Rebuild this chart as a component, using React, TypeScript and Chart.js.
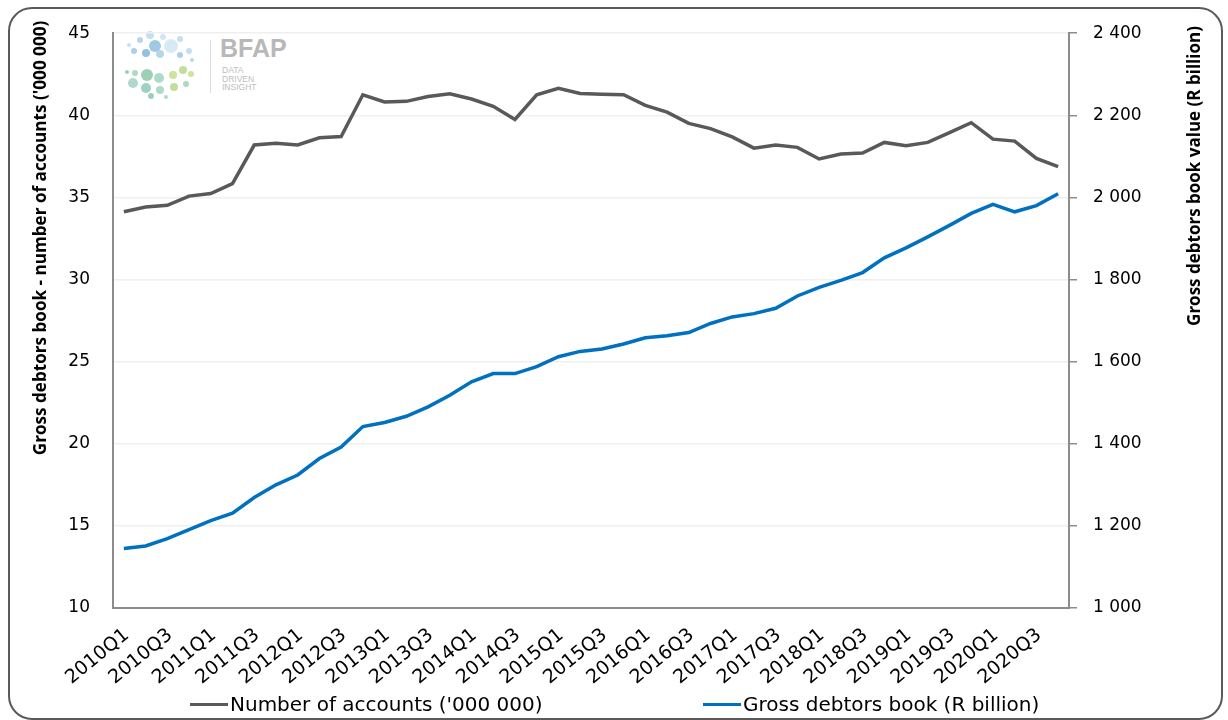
import React, { useEffect, useRef } from "react";
import { Chart, registerables } from "chart.js";

Chart.register(...registerables);

const quarters = [
  "2010Q1", "2010Q2", "2010Q3", "2010Q4",
  "2011Q1", "2011Q2", "2011Q3", "2011Q4",
  "2012Q1", "2012Q2", "2012Q3", "2012Q4",
  "2013Q1", "2013Q2", "2013Q3", "2013Q4",
  "2014Q1", "2014Q2", "2014Q3", "2014Q4",
  "2015Q1", "2015Q2", "2015Q3", "2015Q4",
  "2016Q1", "2016Q2", "2016Q3", "2016Q4",
  "2017Q1", "2017Q2", "2017Q3", "2017Q4",
  "2018Q1", "2018Q2", "2018Q3", "2018Q4",
  "2019Q1", "2019Q2", "2019Q3", "2019Q4",
  "2020Q1", "2020Q2", "2020Q3", "2020Q4",
];

// Number of accounts ('000 000) - left axis
const accounts = [
  34.13, 34.42, 34.52, 35.08, 35.24, 35.84, 38.19, 38.3, 38.2, 38.63, 38.71,
  41.25, 40.81, 40.85, 41.15, 41.31, 40.99, 40.55, 39.75, 41.25, 41.65, 41.33,
  41.29, 41.25, 40.61, 40.19, 39.51, 39.19, 38.69, 38.0, 38.19, 38.05, 37.34,
  37.64, 37.7, 38.35, 38.15, 38.35, 38.95, 39.55, 38.55, 38.43, 37.38, 36.88,
];

// Gross debtors book (R billion) - right axis
const debtorsBook = [
  1145, 1151, 1169, 1191, 1213, 1231, 1269, 1300, 1324, 1364, 1392, 1442, 1452,
  1467, 1490, 1518, 1551, 1571, 1571, 1588, 1612, 1625, 1631, 1643, 1658, 1663,
  1671, 1693, 1709, 1717, 1730, 1760, 1781, 1798, 1817, 1853, 1877, 1904, 1932,
  1961, 1983, 1965, 1980, 2009,
];

const accountsLabel = "Number of accounts ('000 000)";
const debtorsLabel = "Gross debtors book (R billion)";
const leftTitle = "Gross debtors book - number of accounts ('000 000)";
const rightTitle = "Gross debtors book value (R billion)";

const GREY = "#595959";
const BLUE = "#0070C0";
const TICK_FONT = "'DejaVu Sans', 'Open Sans', sans-serif";
const TITLE_FONT = "'Open Sans', 'Liberation Sans', Arial, sans-serif";

const logoDots: [number, number, number, string][] = [
  [150, 35, 4, "#b9d9ee"], [163, 37, 3, "#c8e2f2"], [140, 40, 3, "#a9cfe6"],
  [155, 46, 6, "#8fc0e2"], [171, 46, 7, "#cfe6f4"], [180, 39, 3, "#b9d9ee"],
  [134, 51, 3, "#9cc8e6"], [146, 53, 4, "#7fb6dc"], [160, 54, 4, "#a9cfe6"],
  [180, 55, 3, "#9cc8e6"], [189, 51, 3, "#b9d9ee"], [129, 45, 2, "#b9d9ee"],
  [192, 60, 2, "#a9cfe6"], [127, 72, 2, "#8cc9a8"], [135, 73, 3, "#9fd4b8"],
  [147, 75, 6, "#8cc9a8"], [159, 78, 5, "#9fd4c0"], [173, 75, 4, "#c3df8f"],
  [183, 70, 4, "#b6d98a"], [191, 74, 3, "#c3df8f"], [133, 83, 5, "#9fd4c0"],
  [146, 88, 5, "#8cc9b8"], [160, 90, 4, "#9fd4c0"], [174, 87, 4, "#b6d98a"],
  [186, 84, 3, "#9fd4b8"], [151, 96, 3, "#8cc9a8"], [166, 97, 2, "#9fd4c0"],
];

const fmtSpace = (v: number) =>
  String(v).replace(/\B(?=(\d{3})+(?!\d))/g, " ");

function drawFitted(ctx: any, text: string, cx: number, cy: number, len: number) {
  ctx.save();
  ctx.font = `bold 20px ${TITLE_FONT}`;
  const w = ctx.measureText(text).width;
  const size = Math.min(20, (20 * len) / w);
  ctx.font = `bold ${size.toFixed(2)}px ${TITLE_FONT}`;
  ctx.fillStyle = "#000";
  ctx.textAlign = "center";
  ctx.textBaseline = "middle";
  ctx.translate(cx, cy);
  ctx.rotate(-Math.PI / 2);
  ctx.fillText(text, 0, 0);
  ctx.restore();
}

const titlesPlugin = {
  id: "axisTitles",
  afterDraw(chart: any) {
    const ctx = chart.ctx;
    drawFitted(ctx, leftTitle, 41, 238, 435);
    drawFitted(ctx, rightTitle, 1195, 176, 300);
  },
};

export default function App() {
  const canvasRef = useRef<HTMLCanvasElement | null>(null);

  useEffect(() => {
    if (!canvasRef.current) return;
    const chart = new Chart(canvasRef.current, {
      type: "line",
      data: {
        labels: quarters,
        datasets: [
          {
            label: accountsLabel,
            data: accounts,
            borderColor: GREY,
            backgroundColor: GREY,
            borderWidth: 3.5,
            pointRadius: 0,
            tension: 0,
            yAxisID: "y",
          },
          {
            label: debtorsLabel,
            data: debtorsBook,
            borderColor: BLUE,
            backgroundColor: BLUE,
            borderWidth: 3.5,
            pointRadius: 0,
            tension: 0,
            yAxisID: "y1",
          },
        ],
      },
      options: {
        responsive: false,
        animation: false,
        devicePixelRatio: 1,
        layout: { padding: { left: 0, right: 0, top: 26, bottom: 32 } },
        plugins: {
          legend: { display: false },
          tooltip: { enabled: false },
        },
        scales: {
          x: {
            offset: true,
            grid: { display: false, drawTicks: false },
            border: { display: true, color: "#8c8c8c", width: 2 },
            ticks: {
              autoSkip: false,
              minRotation: 39,
              maxRotation: 39,
              padding: 16,
              labelOffset: 3,
              color: "#000",
              font: { family: TICK_FONT, size: 19 },
              callback: (_v: any, i: number) => (i % 2 === 0 ? quarters[i] : ""),
            },
            afterFit: (s: any) => {
              s.height = 80;
            },
          },
          y: {
            position: "left",
            min: 10,
            max: 45,
            grid: { color: "#efefef", lineWidth: 1.5, drawTicks: false },
            border: { display: true, color: "#8c8c8c", width: 2 },
            ticks: {
              stepSize: 5,
              padding: 23,
              color: "#000",
              font: { family: TICK_FONT, size: 17 },
            },
            afterFit: (s: any) => {
              s.width = 113;
            },
          },
          y1: {
            position: "right",
            min: 1000,
            max: 2400,
            grid: {
              drawOnChartArea: false,
              drawTicks: true,
              tickLength: 8,
              color: "#8c8c8c",
              lineWidth: 1.5,
            },
            border: { display: true, color: "#8c8c8c", width: 2 },
            ticks: {
              stepSize: 200,
              padding: 16,
              color: "#000",
              font: { family: TICK_FONT, size: 17 },
              callback: (v: any) => fmtSpace(Number(v)),
            },
            afterFit: (s: any) => {
              s.width = 159;
            },
          },
        },
      },
      plugins: [titlesPlugin],
    });
    return () => chart.destroy();
  }, []);

  const legendText: React.CSSProperties = {
    position: "absolute",
    top: 692,
    fontFamily: TICK_FONT,
    fontSize: 20,
    color: "#000",
    whiteSpace: "nowrap",
    lineHeight: "24px",
  };

  return (
    <div>
      <div
        style={{
          position: "absolute",
          left: 8,
          top: 7,
          width: 1215,
          height: 713,
          boxSizing: "border-box",
          border: "2px solid #5a5a5a",
          borderRadius: 24,
        }}
      />
      {/* BFAP watermark logo */}
      <div style={{ position: "absolute", left: 0, top: 0 }}>
        {logoDots.map(([x, y, r, c], i) => (
          <div
            key={i}
            style={{
              position: "absolute",
              left: x - r,
              top: y - r,
              width: r * 2,
              height: r * 2,
              borderRadius: "50%",
              background: c,
              opacity: 0.85,
            }}
          />
        ))}
        <div
          style={{
            position: "absolute",
            left: 210,
            top: 40,
            width: 1,
            height: 53,
            background: "#dcdcdc",
          }}
        />
        <div
          style={{
            position: "absolute",
            left: 220,
            top: 34,
            fontFamily: "'Liberation Sans', Arial, sans-serif",
            fontWeight: "bold",
            fontSize: 25,
            color: "#b8b8b8",
          }}
        >
          BFAP
        </div>
        <div
          style={{
            position: "absolute",
            left: 222,
            top: 66,
            fontFamily: "'Liberation Sans', Arial, sans-serif",
            fontSize: 8.5,
            lineHeight: "8.5px",
            color: "#bdbdbd",
          }}
        >
          DATA
          <br />
          DRIVEN
          <br />
          INSIGHT
        </div>
      </div>
      <canvas
        ref={canvasRef}
        width={1228}
        height={720}
        style={{ position: "absolute", left: 0, top: 0, width: 1228, height: 720 }}
      />
      {/* Legend */}
      <div style={{ position: "absolute", left: 190, top: 703, width: 38, height: 3, background: GREY }} />
      <div style={{ ...legendText, left: 230 }}>{accountsLabel}</div>
      <div style={{ position: "absolute", left: 703, top: 703, width: 38, height: 3, background: BLUE }} />
      <div style={{ ...legendText, left: 743 }}>{debtorsLabel}</div>
    </div>
  );
}
